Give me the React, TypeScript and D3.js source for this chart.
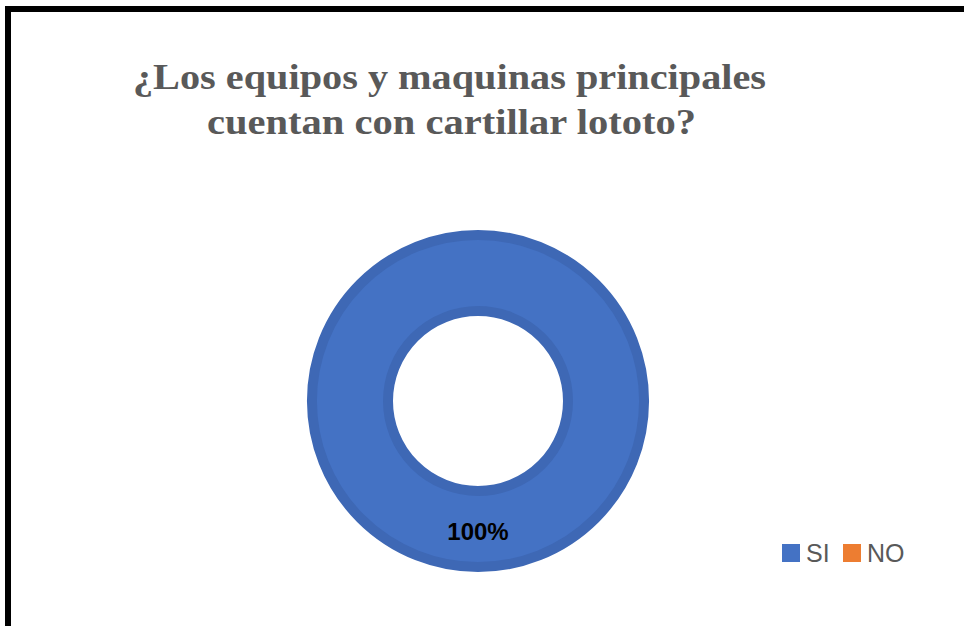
import React from "react";
import * as d3 from "d3";

const categories = ["SI", "NO"];
const values = [100, 0];
const colors = ["#4472C4", "#ED7D31"];
const titleLines = ["¿Los equipos y maquinas principales", "cuentan con cartillar lototo?"];
const dataLabel = "100%";

const W = 964;
const H = 626;

export default function App() {
  const cx = 478;
  const cy = 401;
  const pie = d3.pie<number>().sort(null).value((d) => d)(values);
  const arc = d3.arc<d3.PieArcDatum<number>>().innerRadius(90).outerRadius(166);
  const titleX = [449.5, 451.5];
  const titleLen = [633, 489];
  return (
    <svg width={W} height={H} style={{ position: "absolute", left: 0, top: 0 }}>
      <rect x={0} y={0} width={W} height={H} fill="#fff" />
      <rect x={8} y={9} width={W + 20} height={H + 20} fill="none" stroke="#000" strokeWidth={6} />
      {titleLines.map((t, i) => (
        <text
          key={i}
          x={titleX[i]}
          y={89 + i * 45}
          textAnchor="middle"
          fontFamily="'Liberation Serif', 'Times New Roman', serif"
          fontWeight="bold"
          fontSize={35}
          fill="#595959"
          textLength={titleLen[i]}
          lengthAdjust="spacingAndGlyphs"
        >
          {t}
        </text>
      ))}
      <g transform={`translate(${cx},${cy})`}>
        {pie.map((p, i) =>
          p.value > 0 ? (
            <path key={i} d={arc(p) || ""} fill={colors[i]} stroke="#3E68B5" strokeWidth={10} />
          ) : null
        )}
      </g>
      <text
        x={cx}
        y={540}
        textAnchor="middle"
        fontFamily="'Liberation Sans', Arial, sans-serif"
        fontWeight="bold"
        fontSize={24}
        fill="#000"
      >
        {dataLabel}
      </text>
      {categories.map((c, i) => {
        const lx = 782 + i * 61;
        return (
          <g key={c}>
            <rect x={lx} y={544} width={18} height={18} fill={colors[i]} />
            <text
              x={lx + 24}
              y={562}
              fontFamily="'Liberation Sans', Arial, sans-serif"
              fontSize={25}
              fill="#595959"
            >
              {c}
            </text>
          </g>
        );
      })}
    </svg>
  );
}
